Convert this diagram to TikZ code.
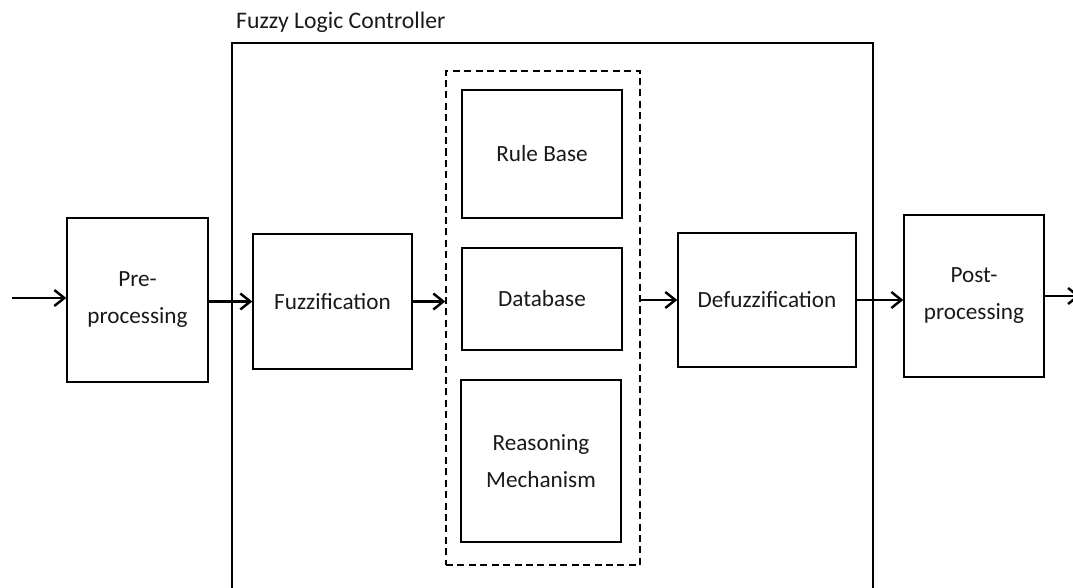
\documentclass[tikz,border=0pt]{standalone}
\usepackage{fontspec}
\setmainfont{Carlito}
\usetikzlibrary{arrows.meta}

\begin{document}
\begin{tikzpicture}[
  blk/.style={rectangle, draw, thick, align=center, text=black!90,
              font=\fontsize{13.2}{21}\selectfont},
  flow/.style={-{Straight Barb[length=2mm, width=3.2mm]}, line width=1.4pt}]

\useasboundingbox (0,0) rectangle (21.46,-11.76);

% controller frame, open at the bottom
\draw [thick] (4.64,-11.76) -- (4.64,-0.86) -- (17.46,-0.86) -- (17.46,-11.76);
\node (flc) [anchor=west, text=black!90, font=\fontsize{13.5}{16}\selectfont] at (4.6,-0.44) {Fuzzy Logic Controller};

\node (pre) [blk, minimum width=2.82cm, minimum height=3.28cm] at (2.75,-6.0) {Pre-\\processing};
\node (fuzz) [blk, minimum width=3.18cm, minimum height=2.7cm] at (6.65,-6.03) {Fuzzification};

% knowledge base
\node (kb) [rectangle, draw, thick, dash pattern=on 4pt off 2.5pt, minimum width=3.88cm, minimum height=9.88cm] at (10.86,-6.36) {};
\node (rule) [blk, minimum width=3.2cm, minimum height=2.56cm] at (10.84,-3.08) {Rule Base};
\node (db) [blk, minimum width=3.2cm, minimum height=2.04cm] at (10.84,-5.98) {Database};
\node (reason) [blk, minimum width=3.2cm, minimum height=3.24cm] at (10.82,-9.22) {Reasoning\\Mechanism};

\node (defuzz) [blk, minimum width=3.56cm, minimum height=2.68cm] at (15.34,-6.0) {Defuzzification};
\node (post) [blk, minimum width=2.8cm, minimum height=3.24cm] at (19.48,-5.92) {Post-\\processing};

\coordinate (in) at (0.24,-5.96);
\coordinate (out) at (21.6,-5.92);

\draw [flow] (in) -- (in -| pre.west);
\draw [flow] (pre.east |- fuzz) -- (fuzz.west);
\draw [flow] (fuzz.east) -- (fuzz.east -| kb.west);
\draw [flow] (kb.east |- defuzz) -- (defuzz.west);
\draw [flow] (defuzz.east) -- (defuzz.east -| post.west);
\draw [flow] (post.east) -- (out);

\end{tikzpicture}
\end{document}
